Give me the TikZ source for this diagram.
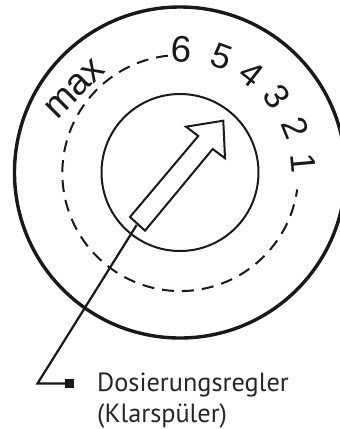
\documentclass[tikz,border=0pt]{standalone}
\usepackage{fontspec}
\setmainfont{Liberation Sans}
\newfontfamily\ptfont{PT Sans}
\tikzset{
  ink/.style={draw=black!90},
  thinline/.style={ink,line width=2pt},
  dial/.style={font=\fontsize{35}{35}\selectfont,inner sep=0pt,text=black!90},
  caption/.style={font=\ptfont\fontsize{26.3}{31}\selectfont,inner sep=0pt,anchor=base west,text=black!85}
}
\begin{document}
\begin{tikzpicture}[x=1pt,y=-1pt]
\useasboundingbox (0,0) rectangle (340,429);
\clip (0,0) rectangle (340,429);
\coordinate (c) at (180,172.5);
\draw[ink,line width=3.4pt] (c) circle[radius=165.5];
\draw[thinline] (c) circle[radius=78.5];
\draw[thinline,dash pattern=on 12pt off 8pt] (168,55.7) arc[start angle=-96,end angle=-352,radius=118];
% arrow
\coordinate (tip) at (223.3,120.7);
\coordinate (barbA) at (186,126.7);
\coordinate (notchA) at (198.3,136);
\coordinate (tailA) at (130,217);
\coordinate (tailB) at (145,230.7);
\coordinate (notchB) at (212.7,149);
\coordinate (barbB) at (225,158.3);
\draw[thinline,fill=white,line join=miter] (tip) -- (barbA) -- (notchA) -- (tailA) -- (tailB) -- (notchB) -- (barbB) -- cycle;
% leader
\coordinate (lead) at (136.7,225);
\coordinate (elbow) at (37.5,383.5);
\node[fill=black!90,minimum size=9.5pt,inner sep=0pt] (sq) at (69.7,383.5) {};
\draw[ink,line width=2.2pt,line join=miter] (lead) -- (elbow) -- (sq.west);
% dial labels
\node[dial,font=\fontsize{37}{37}\selectfont,rotate=-3] (n6) at (181.5,49) {6};
\node[dial,rotate=-20] (n5) at (221.5,56.5) {5};
\node[dial,rotate=-38] (n4) at (252,74) {4};
\node[dial,rotate=-55] (n3) at (277,97) {3};
\node[dial,rotate=-68] (n2) at (295,128) {2};
\node[dial,rotate=-85] (n1) at (303,163) {1};
\node[dial,font=\fontsize{37}{37}\selectfont,rotate=45] (nmax) at (75,89) {max};
% caption
\node[caption] (cap1) at (97,391) {Dosierungsregler};
\node[caption] (cap2) at (97,422) {(Klarspüler)};
\end{tikzpicture}
\end{document}
